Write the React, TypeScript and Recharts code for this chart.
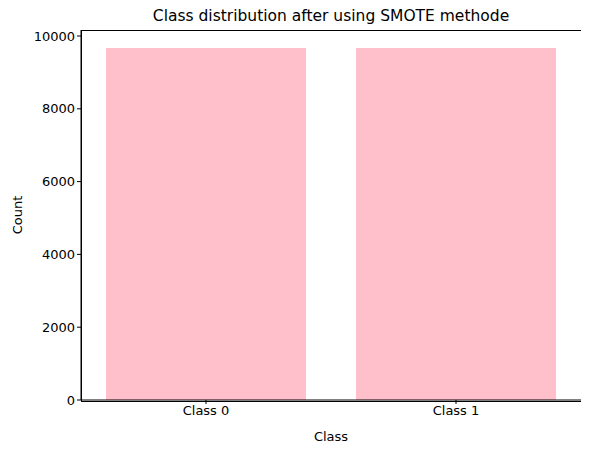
import { Bar, BarChart, XAxis, YAxis } from "recharts";

const categories = ["Class 0", "Class 1"];
const counts = [9670, 9670];
const yTicks = [0, 2000, 4000, 6000, 8000, 10000];

const data = categories.map((name, i) => ({ name, count: counts[i] }));

const font = "DejaVu Sans, sans-serif";
const tickStyle = { fontSize: 13, fill: "#000", fontFamily: font };

export default function App() {
  return (
    <div style={{ position: "relative", width: 589, height: 453, margin: -8, background: "#fff", fontFamily: font }}>
      <div style={{ position: "absolute", left: 81, width: 500, top: 7, textAlign: "center", fontSize: 15.5 }}>
        Class distribution after using SMOTE methode
      </div>
      <div
        style={{
          position: "absolute",
          left: 17,
          top: 215,
          fontSize: 13,
          transform: "translate(-50%, -50%) rotate(-90deg)",
          whiteSpace: "nowrap",
        }}
      >
        Count
      </div>
      <div
        style={{
          position: "absolute",
          left: 80.5,
          top: 29.5,
          width: 500,
          height: 370,
          border: "1px solid #000",
          pointerEvents: "none",
          zIndex: 2,
        }}
      />
      <BarChart width={589} height={453} data={data} barCategoryGap="10%" margin={{ top: 30, right: 8, bottom: 0, left: 0 }}>
        <XAxis
          dataKey="name"
          height={53}
          tick={tickStyle}
          tickSize={4}
          stroke="#000"
          tickLine={{ stroke: "#000" }}
          label={{ value: "Class", position: "insideBottom", offset: 12, style: { fontSize: 13, fill: "#000", fontFamily: font } }}
        />
        <YAxis
          width={81}
          domain={[0, 10165]}
          ticks={yTicks}
          allowDataOverflow
          tick={tickStyle}
          tickSize={4}
          stroke="#000"
        />
        <Bar dataKey="count" fill="#ffc0cb" isAnimationActive={false} />
      </BarChart>
    </div>
  );
}
